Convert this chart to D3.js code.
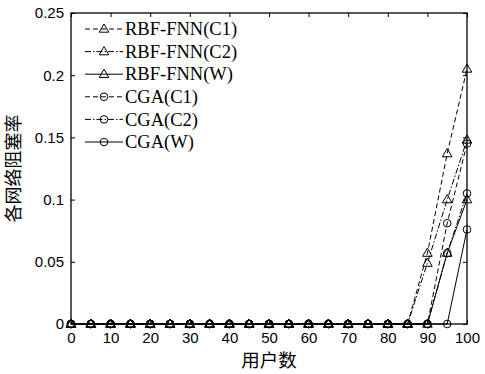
<!DOCTYPE html>
<html>
<head>
<meta charset="utf-8">
<script src="https://cdn.jsdelivr.net/npm/d3@7"></script>
<style>
  html, body { margin: 0; padding: 0; background: #fff; }
  svg { display: block; }
</style>
</head>
<body>
<svg id="chart" width="485" height="374"></svg>
<script>
// Number of users (x axis)
const users = [0,5,10,15,20,25,30,35,40,45,50,55,60,65,70,75,80,85,90,95,100];

// Blocking rate per method / traffic class
const rbfC1 = [0,0,0,0,0,0,0,0,0,0,0,0,0,0,0,0,0,0,0.057,0.137,0.205];
const rbfC2 = [0,0,0,0,0,0,0,0,0,0,0,0,0,0,0,0,0,0,0.049,0.100,0.148];
const rbfW  = [0,0,0,0,0,0,0,0,0,0,0,0,0,0,0,0,0,0,0,0.057,0.100];
const cgaC1 = [0,0,0,0,0,0,0,0,0,0,0,0,0,0,0,0,0,0,0,0.081,0.145];
const cgaC2 = [0,0,0,0,0,0,0,0,0,0,0,0,0,0,0,0,0,0,0,0.057,0.105];
const cgaW  = [0,0,0,0,0,0,0,0,0,0,0,0,0,0,0,0,0,0,0,0,0.076];

const seriesNames = ["RBF-FNN(C1)","RBF-FNN(C2)","RBF-FNN(W)","CGA(C1)","CGA(C2)","CGA(W)"];
const seriesValues = [rbfC1, rbfC2, rbfW, cgaC1, cgaC2, cgaW];
const seriesMarkers = ["tri","tri","tri","circ","circ","circ"];
const seriesDash = ["5,3","6,2,1.5,2",null,"5,3","6,2,1.5,2",null];

const xTicks = [0,10,20,30,40,50,60,70,80,90,100];
const yTicks = [0,0.05,0.1,0.15,0.2,0.25];
const yTickLabels = ["0","0.05","0.1","0.15","0.2","0.25"];

(function () {
  const svg = d3.select("#chart");
  const pLeft = 71, pRight = 467, pTop = 13, pBottom = 324;

  const x = d3.scaleLinear().domain([0,100]).range([pLeft,pRight]);
  const y = d3.scaleLinear().domain([0,0.25]).range([pBottom,pTop]);

  // Plot frame
  svg.append("rect")
    .attr("x", pLeft).attr("y", pTop)
    .attr("width", pRight-pLeft).attr("height", pBottom-pTop)
    .attr("fill","none").attr("stroke","#000").attr("stroke-width",1.3);

  // Axes with inward ticks
  const tickFont = "'Liberation Sans', Arial, sans-serif";
  const xAxis = svg.append("g").attr("transform",`translate(0,${pBottom})`)
    .call(d3.axisBottom(x).tickValues(xTicks).tickSize(-4).tickPadding(8).tickFormat(d3.format("d")));
  const xAxisTop = svg.append("g").attr("transform",`translate(0,${pTop})`)
    .call(d3.axisTop(x).tickValues(xTicks).tickSize(-4).tickFormat(""));
  const yAxis = svg.append("g").attr("transform",`translate(${pLeft},0)`)
    .call(d3.axisLeft(y).tickValues(yTicks).tickSize(-4).tickPadding(7).tickFormat((d,i)=>yTickLabels[i]));
  const yAxisRight = svg.append("g").attr("transform",`translate(${pRight},0)`)
    .call(d3.axisRight(y).tickValues(yTicks).tickSize(-4).tickFormat(""));

  [xAxis,xAxisTop,yAxis,yAxisRight].forEach(g=>{
    g.select(".domain").remove();
    g.selectAll("line").attr("stroke","#000").attr("stroke-width",1);
    g.selectAll("text").attr("fill","#000").style("font-family",tickFont).style("font-size","15px");
  });

  // Marker drawing helper
  function drawMarker(g, kind, cx, cy) {
    if (kind === "tri") {
      g.append("path")
        .attr("d", `M${cx},${cy-5} L${cx+4.8},${cy+3.2} L${cx-4.8},${cy+3.2} Z`)
        .attr("fill","none").attr("stroke","#000").attr("stroke-width",1);
    } else {
      g.append("circle").attr("cx",cx).attr("cy",cy).attr("r",3.8)
        .attr("fill","none").attr("stroke","#000").attr("stroke-width",1);
    }
  }

  const line = d3.line().x((d,i)=>x(users[i])).y(d=>y(d));

  seriesValues.forEach((vals,s)=>{
    const g = svg.append("g");
    g.append("path").attr("d", line(vals))
      .attr("fill","none").attr("stroke","#000").attr("stroke-width",1)
      .attr("stroke-dasharray", seriesDash[s]);
    vals.forEach((v,i)=>drawMarker(g, seriesMarkers[s], x(users[i]), y(v)));
  });

  // Legend
  const legend = svg.append("g");
  const legY0 = 29, legStep = 22.6;
  seriesNames.forEach((name,s)=>{
    const ly = legY0 + s*legStep;
    legend.append("line").attr("x1",85).attr("x2",123).attr("y1",ly).attr("y2",ly)
      .attr("stroke","#000").attr("stroke-width",1).attr("stroke-dasharray",seriesDash[s]);
    drawMarker(legend, seriesMarkers[s], 104, ly);
    legend.append("text").attr("x",125).attr("y",ly).attr("dy","0.34em")
      .style("font-family","'Liberation Serif','Times New Roman',serif")
      .style("font-size","18.5px").attr("fill","#000").text(name);
  });

  // Axis titles
  svg.append("text").attr("x",(pLeft+pRight)/2).attr("y",367)
    .attr("text-anchor","middle")
    .style("font-family","'Noto Sans CJK SC', sans-serif").style("font-size","18.5px")
    .attr("fill","#000").text("用户数");

  svg.append("text")
    .attr("transform",`translate(20,${(pTop+pBottom)/2}) rotate(-90)`)
    .attr("text-anchor","middle")
    .style("font-family","'Noto Sans CJK SC', sans-serif").style("font-size","18px")
    .attr("fill","#000").text("各网络阻塞率");
})();
</script>
</body>
</html>
